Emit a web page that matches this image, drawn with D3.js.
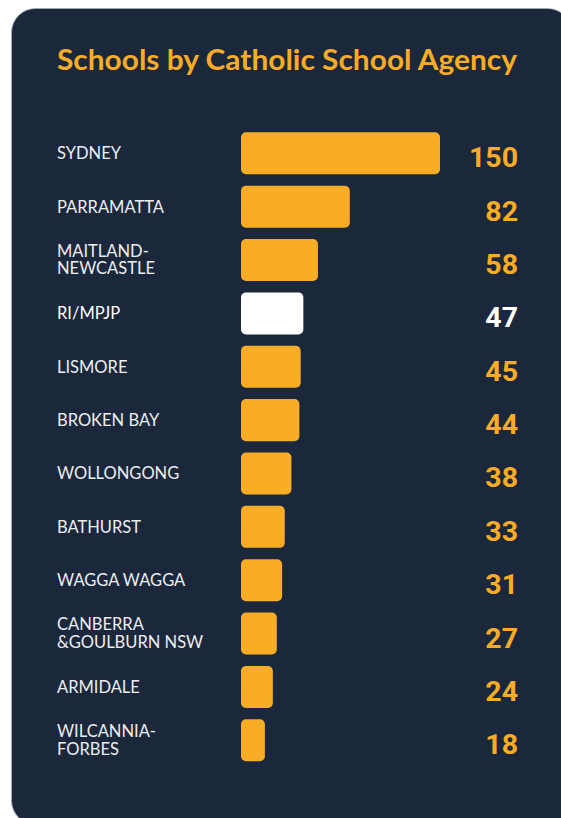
<!DOCTYPE html>
<html>
<head>
<meta charset="utf-8">
<script src="https://cdn.jsdelivr.net/npm/d3@7"></script>
<style>
  html, body { margin: 0; padding: 0; background: #ffffff; }
  #vis { width: 561px; height: 818px; overflow: hidden; }
</style>
</head>
<body>
<div id="vis"></div>
<script>
// agencies and number of schools, top to bottom
var agencies = ["SYDNEY", "PARRAMATTA", "MAITLAND-\nNEWCASTLE", "RI/MPJP", "LISMORE", "BROKEN BAY",
                "WOLLONGONG", "BATHURST", "WAGGA WAGGA", "CANBERRA\n&GOULBURN NSW", "ARMIDALE", "WILCANNIA-\nFORBES"];
var schoolCounts = [150, 82, 58, 47, 45, 44, 38, 33, 31, 27, 24, 18];
var highlighted = ["RI/MPJP"];
var chartTitle = "Schools by Catholic School Agency";

var navy = "#1b283b",
    orange = "#f9ac25",
    white = "#ffffff",
    labelColour = "#eceef1";

var width = 561, height = 818;

var svg = d3.select("#vis").append("svg")
    .attr("width", width)
    .attr("height", height);

// card background, runs off the right and bottom edges
svg.append("rect")
    .attr("x", 11.5).attr("y", 8.5)
    .attr("width", 560).attr("height", 816)
    .attr("rx", 24).attr("ry", 24)
    .attr("fill", navy)
    .attr("stroke", "#a9aeb6")
    .attr("stroke-width", 0.8);

svg.append("text")
    .attr("x", 57).attr("y", 70)
    .attr("fill", orange)
    .attr("font-family", "Lato, sans-serif")
    .attr("font-weight", 700)
    .attr("font-size", 28)
    .attr("textLength", 460)
    .attr("lengthAdjust", "spacingAndGlyphs")
    .text(chartTitle);

var rows = agencies.map(function(a, i){ return {name: a, value: schoolCounts[i]}; });

var y = d3.scaleBand()
    .domain(agencies)
    .range([132.3, 761.3])
    .paddingInner(0.2125)
    .paddingOuter(0);

var x = d3.scaleLinear()
    .domain([0, 150])
    .range([241, 440]);

function fillFor(d){
    return highlighted.indexOf(d.name) >= 0 ? white : orange;
}

var row = svg.selectAll(".row").data(rows)
    .enter().append("g")
    .attr("class", "row")
    .attr("transform", function(d){ return "translate(0," + (y(d.name) + y.bandwidth() / 2) + ")"; });

row.append("rect")
    .attr("x", x(0))
    .attr("y", -y.bandwidth() / 2)
    .attr("width", function(d){ return x(d.value) - x(0); })
    .attr("height", y.bandwidth())
    .attr("rx", 5).attr("ry", 5)
    .attr("fill", fillFor);

// category labels, some on two lines
row.each(function(d){
    var lines = d.name.split("\n");
    var t = d3.select(this).append("text")
        .attr("x", 57)
        .attr("fill", highlighted.indexOf(d.name) >= 0 ? white : labelColour)
        .attr("font-family", "Lato, sans-serif")
        .attr("font-size", 16.5);
    var first = lines.length > 1 ? -3.2 : 6;
    lines.forEach(function(line, i){
        t.append("tspan")
            .attr("x", 57)
            .attr("y", first + i * 17.5)
            .text(line);
    });
});

row.append("text")
    .attr("x", 518)
    .attr("y", 14)
    .attr("text-anchor", "end")
    .attr("fill", fillFor)
    .attr("font-family", "Roboto, sans-serif")
    .attr("font-weight", 700)
    .attr("font-size", 28.5)
    .text(function(d){ return d.value; });
</script>
</body>
</html>
